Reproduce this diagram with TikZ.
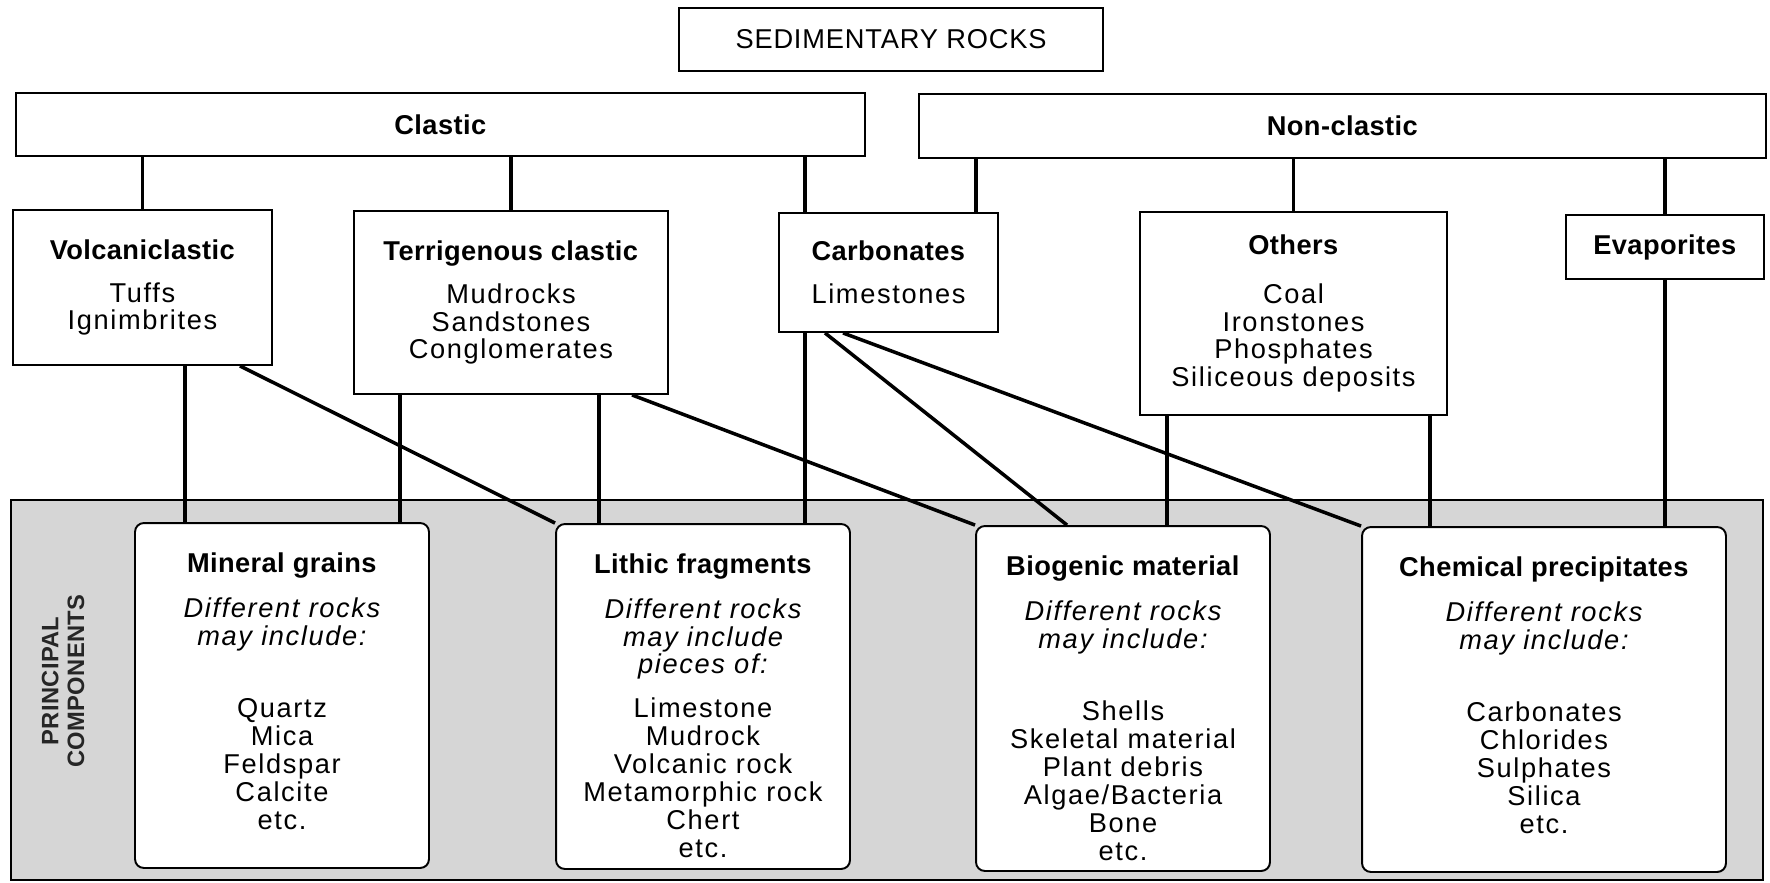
\documentclass[tikz,border=0pt]{standalone}
\usepackage{fontspec}
\setmainfont{Liberation Sans}[LetterSpace=6, BoldFeatures={LetterSpace=1.5}]
\usetikzlibrary{positioning}

\newcommand{\diagfont}{\fontsize{15.5}{15.9}\selectfont}
\newcommand{\sidefont}{\fontsize{13.5}{14.7}\selectfont\bfseries}
\definecolor{panelgray}{gray}{0.84}

\tikzset{
  box/.style={draw, line width=1.1pt, fill=white, align=center, inner sep=0pt},
  compbox/.style={draw, line width=1.1pt, fill=white, rounded corners=5pt, inner sep=0pt,
    minimum width=5.88cm, minimum height=6.9cm},
  comptext/.style={anchor=north, align=center, inner sep=0pt},
  link/.style={line width=2pt},
}

\begin{document}
\begin{tikzpicture}[x=0.02cm, y=-0.02cm, every node/.append style={font=\diagfont}]
\useasboundingbox (0,0) rectangle (1770,882);

% shaded band of principal components
\node[draw, line width=1pt, fill=panelgray, minimum width=35.04cm, minimum height=7.6cm, inner sep=0pt] (panel) at (887,690) {};
\node[rotate=90, align=center, inner sep=0pt, text=black!85, font=\sidefont] (pc) at (63,681) {PRINCIPAL\\COMPONENTS};

% top levels
\node[box, minimum width=8.48cm, minimum height=1.26cm] (sed) at (891,39.5) {\addfontfeatures{LetterSpace=3}SEDIMENTARY ROCKS};
\node[box, minimum width=16.98cm, minimum height=1.26cm] (clastic) at (440.5,124.5) {\textbf{Clastic}};
\node[box, minimum width=16.94cm, minimum height=1.28cm] (nonclastic) at (1342.5,126) {\textbf{Non-clastic}};

% rock groups
\node[box, minimum width=5.18cm, minimum height=3.1cm] (volc) at (142.5,287.5)
  {\textbf{Volcaniclastic}\\[0.3cm] Tuffs\\Ignimbrites};
\node[box, minimum width=6.28cm, minimum height=3.66cm] (terr) at (511,302.5)
  {\textbf{Terrigenous clastic}\\[0.3cm] Mudrocks\\Sandstones\\Conglomerates};
\node[box, minimum width=4.38cm, minimum height=2.38cm] (carb) at (888.5,272.5)
  {\textbf{Carbonates}\\[0.3cm] Limestones};
\node[box, minimum width=6.14cm, minimum height=4.06cm] (others) at (1293.5,313.5)
  {\textbf{Others}\\[0.42cm] Coal\\Ironstones\\Phosphates\\Siliceous deposits};
\node[box, minimum width=3.96cm, minimum height=1.28cm] (evap) at (1665,247)
  {\textbf{Evaporites}};

% principal components
\node[compbox] (minrl) at (282,695.5) {};
\node[compbox] (lith) at (703,696.5) {};
\node[compbox] (biog) at (1123,698.5) {};
\node[compbox, minimum width=7.28cm] (chem) at (1544,699.5) {};

\node[comptext] (minrl-t) at ([yshift=-0.6cm]minrl.north)
  {\textbf{Mineral grains}\\[0.34cm] {\itshape Different rocks}\\{\itshape may include:}\\[0.9cm]
   Quartz\\Mica\\Feldspar\\Calcite\\etc.};
\node[comptext] (lith-t) at ([yshift=-0.6cm]lith.north)
  {\textbf{Lithic fragments}\\[0.34cm] {\itshape Different rocks}\\{\itshape may include}\\{\itshape pieces of:}\\[0.32cm]
   Limestone\\Mudrock\\Volcanic rock\\Metamorphic rock\\Chert\\etc.};
\node[comptext] (biog-t) at ([yshift=-0.6cm]biog.north)
  {\textbf{Biogenic material}\\[0.34cm] {\itshape Different rocks}\\{\itshape may include:}\\[0.9cm]
   Shells\\Skeletal material\\Plant debris\\Algae/Bacteria\\Bone\\etc.};
\node[comptext] (chem-t) at ([yshift=-0.6cm]chem.north)
  {\textbf{Chemical precipitates}\\[0.34cm] {\itshape Different rocks}\\{\itshape may include:}\\[0.9cm]
   Carbonates\\Chlorides\\Sulphates\\Silica\\etc.};

% links between levels
\draw[link] (clastic.south -| volc.north) -- (volc.north);
\draw[link] (clastic.south -| terr.north) -- (terr.north);
\draw[link] (clastic.south -| 805,0) -- (carb.north -| 805,0);
\draw[link] (nonclastic.south -| 976,0) -- (carb.north -| 976,0);
\draw[link] (nonclastic.south -| others.north) -- (others.north);
\draw[link] (nonclastic.south -| evap.north) -- (evap.north);

% links to components
\draw[link] (volc.south -| 185,0) -- (minrl.north -| 185,0);
\draw[link] (volc.south -| 240,0) -- (lith.north west);
\draw[link] (terr.south -| 400,0) -- (minrl.north -| 400,0);
\draw[link] (terr.south -| 599,0) -- (lith.north -| 599,0);
\draw[link] (terr.south -| 632,0) -- (biog.north west);
\draw[link] (carb.south -| 805,0) -- (lith.north -| 805,0);
\draw[link] (carb.south -| 825,0) -- (biog.north -| 1067,0);
\draw[link] (carb.south -| 843,0) -- (chem.north west);
\draw[link] (others.south -| 1167,0) -- (biog.north -| 1167,0);
\draw[link] (others.south -| 1430,0) -- (chem.north -| 1430,0);
\draw[link] (evap.south) -- (chem.north -| evap.south);
\end{tikzpicture}
\end{document}
